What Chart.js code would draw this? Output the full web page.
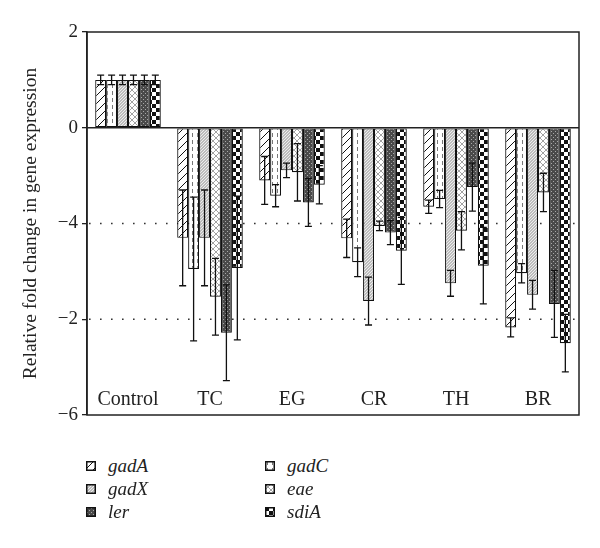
<!DOCTYPE html>
<html>
<head>
<meta charset="utf-8">
<script src="https://cdn.jsdelivr.net/npm/chart.js@4.4.0/dist/chart.umd.min.js"></script>
<style>
  body { margin: 0; background: #fff; }
  #wrap { position: relative; width: 600px; height: 548px; }
  #chartBox { position: absolute; left: 0; top: 0; width: 600px; height: 440px; }
  #legend { font-family: "Liberation Serif", serif; font-style: italic; font-size: 19px; color: #222; }
  .item { position: absolute; display: flex; align-items: center; height: 20px; white-space: nowrap; }
  .item canvas { margin-right: 12px; }
</style>
</head>
<body>
<div id="wrap">
  <div id="chartBox"><canvas id="barChart"></canvas></div>
  <div id="legend"></div>
</div>
<script>
const categories = ["Control", "TC", "EG", "CR", "TH", "BR"];
const genes = ["gadA", "gadC", "gadX", "eae", "ler", "sdiA"];

// mean fold change per condition
const gadA = [1.0, -2.3, -1.1, -2.31, -1.65, -4.17];
const gadC = [1.0, -2.95, -1.42, -2.81, -1.49, -3.04];
const gadX = [1.0, -2.3, -0.89, -3.62, -3.25, -3.49];
const eae = [1.0, -3.53, -0.93, -2.05, -2.15, -1.35];
const ler = [1.0, -4.28, -1.56, -2.19, -1.24, -3.68];
const sdiA = [1.0, -2.93, -1.19, -2.57, -2.88, -4.5];

// error bar half-lengths
const gadAErr = [0.1, 1.0, 0.5, 0.4, 0.14, 0.2];
const gadCErr = [0.1, 1.5, 0.23, 0.3, 0.18, 0.2];
const gadXErr = [0.1, 1.0, 0.15, 0.5, 0.27, 0.3];
const eaeErr = [0.1, 0.8, 0.6, 0.1, 0.4, 0.4];
const lerErr = [0.1, 1.0, 0.5, 0.25, 0.5, 0.7];
const sdiAErr = [0.1, 1.5, 0.4, 0.7, 0.8, 0.6];

// tick labels as printed on the original figure
const yTicks = [2, 0, -2, -4, -6];
const yTickLabels = ["2", "0", "\u22124", "\u22122", "\u22126"];
const dottedLines = [-2, -4];

const serif = '"Liberation Serif", "DejaVu Serif", serif';

// little canvas patterns that stand in for the Excel fills
function makePattern(kind) {
  const c = document.createElement("canvas");
  const g = c.getContext("2d");
  if (kind === "diag") {
    c.width = 8; c.height = 8;
    g.fillStyle = "#fff"; g.fillRect(0, 0, 8, 8);
    g.strokeStyle = "#111"; g.lineWidth = 1;
    g.beginPath();
    g.moveTo(-1, 9); g.lineTo(9, -1);
    g.moveTo(-1, 1); g.lineTo(1, -1);
    g.moveTo(7, 9); g.lineTo(9, 7);
    g.stroke();
  } else if (kind === "dash") {
    c.width = 5; c.height = 7;
    g.fillStyle = "#fff"; g.fillRect(0, 0, 5, 7);
    g.fillStyle = "#777"; g.fillRect(2, 0, 1, 4);
  } else if (kind === "dots") {
    c.width = 3; c.height = 3;
    g.fillStyle = "#bdbdbd"; g.fillRect(0, 0, 3, 3);
    g.fillStyle = "#eee"; g.fillRect(0, 0, 1, 1); g.fillRect(2, 1, 1, 1); g.fillRect(1, 2, 1, 1);
  } else if (kind === "cross") {
    c.width = 6; c.height = 6;
    g.fillStyle = "#fff"; g.fillRect(0, 0, 6, 6);
    g.strokeStyle = "#8a8a8a"; g.lineWidth = 0.8;
    g.beginPath();
    g.moveTo(0, 0); g.lineTo(6, 6);
    g.moveTo(6, 0); g.lineTo(0, 6);
    g.stroke();
  } else if (kind === "dark") {
    c.width = 4; c.height = 4;
    g.fillStyle = "#4a4a4a"; g.fillRect(0, 0, 4, 4);
    g.fillStyle = "#a8a8a8"; g.fillRect(1, 1, 1, 1); g.fillRect(3, 3, 1, 1);
  } else {
    c.width = 8; c.height = 8;
    g.fillStyle = "#fff"; g.fillRect(0, 0, 8, 8);
    g.fillStyle = "#111"; g.fillRect(0, 0, 4, 4); g.fillRect(4, 4, 4, 4);
  }
  return c;
}

const patternKinds = ["diag", "dash", "dots", "cross", "dark", "checker"];
const seriesValues = [gadA, gadC, gadX, eae, ler, sdiA];
const seriesErrors = [gadAErr, gadCErr, gadXErr, eaeErr, lerErr, sdiAErr];

const canvas = document.getElementById("barChart");
const ctx = canvas.getContext("2d");

const datasets = genes.map((name, i) => ({
  label: name,
  data: seriesValues[i],
  errors: seriesErrors[i],
  backgroundColor: ctx.createPattern(makePattern(patternKinds[i]), "repeat"),
  borderColor: "#111",
  borderWidth: 1.2,
  borderSkipped: false,
  categoryPercentage: 0.8,
  barPercentage: 1.0,
}));

// frame, zero line and dotted guide lines
const framePlugin = {
  id: "frame",
  beforeDatasetsDraw(chart) {
    const { ctx, chartArea: a, scales } = chart;
    ctx.save();
    ctx.strokeStyle = "#333";
    ctx.lineWidth = 1.6;
    ctx.setLineDash([1.6, 9.4]);
    dottedLines.forEach((v) => {
      const y = scales.y.getPixelForValue(v);
      ctx.beginPath(); ctx.moveTo(a.left + 2, y); ctx.lineTo(a.right, y); ctx.stroke();
    });
    ctx.setLineDash([]);
    ctx.strokeStyle = "#222";
    ctx.lineWidth = 1.5;
    const y0 = scales.y.getPixelForValue(0);
    ctx.beginPath(); ctx.moveTo(a.left, y0); ctx.lineTo(a.right, y0); ctx.stroke();
    ctx.strokeRect(a.left, a.top, a.right - a.left, a.bottom - a.top);
    ctx.restore();
  },
};

// symmetric error bars on every bar
const errorBarPlugin = {
  id: "errorBars",
  afterDatasetsDraw(chart) {
    const { ctx, scales } = chart;
    ctx.save();
    ctx.strokeStyle = "#111";
    ctx.lineWidth = 1.3;
    chart.data.datasets.forEach((ds, i) => {
      chart.getDatasetMeta(i).data.forEach((bar, j) => {
        const v = ds.data[j], e = ds.errors[j];
        const top = scales.y.getPixelForValue(v + e);
        const bot = scales.y.getPixelForValue(v - e);
        const x = bar.x;
        ctx.beginPath();
        ctx.moveTo(x, top); ctx.lineTo(x, bot);
        ctx.moveTo(x - 3.5, top); ctx.lineTo(x + 3.5, top);
        ctx.moveTo(x - 3.5, bot); ctx.lineTo(x + 3.5, bot);
        ctx.stroke();
      });
    });
    ctx.restore();
  },
};

// category names sit inside the plot, near the bottom
const categoryLabelPlugin = {
  id: "catLabels",
  afterDraw(chart) {
    const { ctx, chartArea: a, scales } = chart;
    ctx.save();
    ctx.font = "20px " + serif;
    ctx.fillStyle = "#222";
    ctx.textAlign = "center";
    ctx.textBaseline = "middle";
    categories.forEach((c, i) => {
      ctx.fillText(c, scales.x.getPixelForValue(i), a.bottom - 15);
    });
    ctx.restore();
  },
};

new Chart(ctx, {
  type: "bar",
  data: { labels: categories, datasets: datasets },
  options: {
    responsive: true,
    maintainAspectRatio: false,
    animation: false,
    layout: { padding: { top: 32, right: 21, bottom: 17, left: 0 } },
    plugins: { legend: { display: false }, tooltip: { enabled: false } },
    scales: {
      x: {
        grid: { display: false },
        ticks: { display: false },
        border: { display: false },
      },
      y: {
        min: -6,
        max: 2,
        afterBuildTicks: (scale) => {
          scale.ticks = yTicks.map((v) => ({ value: v }));
        },
        afterFit: (scale) => {
          scale.width = 87;
        },
        ticks: {
          callback: (v) => yTickLabels[yTicks.indexOf(v)],
          font: { family: serif, size: 19 },
          color: "#222",
          padding: 4,
        },
        grid: { drawOnChartArea: false, drawTicks: true, tickLength: 5, color: "#222", lineWidth: 1.3 },
        border: { display: true, color: "#222", width: 1.5 },
        title: {
          display: true,
          text: "Relative fold change in gene expression",
          font: { family: serif, size: 19.5 },
          color: "#222",
          padding: { top: 19, bottom: 0 },
        },
      },
    },
  },
  plugins: [framePlugin, errorBarPlugin, categoryLabelPlugin],
});

// two-column legend under the chart
const legendBox = document.getElementById("legend");
const legendCols = [86, 265];
const legendRows = [456, 479, 502];
const legendOrder = ["gadA", "gadX", "ler", "gadC", "eae", "sdiA"];
legendOrder.forEach((name, k) => {
  const i = genes.indexOf(name);
  const item = document.createElement("div");
  item.className = "item";
  item.style.left = legendCols[Math.floor(k / 3)] + "px";
  item.style.top = legendRows[k % 3] + "px";
  const sw = document.createElement("canvas");
  sw.width = 10; sw.height = 10;
  const sctx = sw.getContext("2d");
  sctx.fillStyle = sctx.createPattern(makePattern(patternKinds[i]), "repeat");
  sctx.fillRect(0, 0, 10, 10);
  sctx.strokeStyle = "#111"; sctx.lineWidth = 1.5;
  sctx.strokeRect(0.75, 0.75, 8.5, 8.5);
  item.appendChild(sw);
  const txt = document.createElement("span");
  txt.textContent = name;
  item.appendChild(txt);
  legendBox.appendChild(item);
});
</script>
</body>
</html>
